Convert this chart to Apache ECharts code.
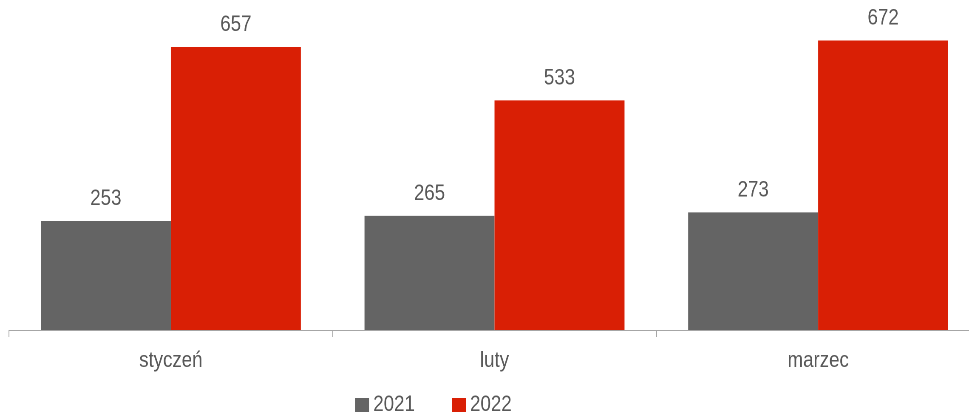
<!DOCTYPE html>
<html>
<head>
<meta charset="utf-8">
<script src="https://cdn.jsdelivr.net/npm/echarts@6/dist/echarts.min.js"></script>
<style>
  html, body { margin: 0; padding: 0; background: #ffffff; overflow: hidden; }
  #wrap { width: 969px; height: 416px; overflow: hidden; }
  #chart { height: 416px; transform-origin: 0 0; }
</style>
</head>
<body>
<div id="wrap"><div id="chart"></div></div>
<script>
// Monthly counts, first quarter, two years side by side
const months = ['styczeń', 'luty', 'marzec'];
const seriesNames = ['2021', '2022'];
const values2021 = [253, 265, 273];
const values2022 = [657, 533, 672];

// The chart is laid out on a wider canvas and squeezed horizontally,
// which gives the tall, condensed lettering; x sizes are divided by SX.
// The plot runs a little past the right edge of the visible page.
const SX = 0.85;
const W = 990 / SX;
const el = document.getElementById('chart');
el.style.width = W + 'px';
el.style.transform = 'scaleX(' + SX + ')';

const FONT = "'Liberation Sans', Arial, sans-serif";
const TEXT_COLOR = '#595959';
const AXIS_COLOR = '#a6a6a6';

const chart = echarts.init(el, null, { renderer: 'canvas', devicePixelRatio: 2 });

const labelStyle = {
  show: true,
  position: 'top',
  distance: 11,
  color: TEXT_COLOR,
  fontFamily: FONT,
  fontSize: 22
};

chart.setOption({
  animation: false,
  backgroundColor: '#ffffff',
  grid: { left: 9 / SX, width: 971 / SX, top: 28.5, bottom: 86, containLabel: false },
  legend: {
    data: seriesNames,
    left: 355 / SX,
    top: 394,
    padding: 0,
    itemWidth: 14 / SX,
    itemHeight: 14,
    itemGap: 37 / SX,
    icon: 'rect',
    textStyle: { color: TEXT_COLOR, fontFamily: FONT, fontSize: 22 }
  },
  xAxis: {
    type: 'category',
    data: months,
    axisLine: { lineStyle: { color: AXIS_COLOR, width: 1 } },
    axisTick: { show: true, length: 7, lineStyle: { color: AXIS_COLOR } },
    axisLabel: { color: TEXT_COLOR, fontFamily: FONT, fontSize: 22, margin: 20 }
  },
  yAxis: {
    type: 'value',
    min: 0,
    max: 700,
    show: false,
    splitLine: { show: false }
  },
  series: [
    {
      name: seriesNames[0],
      type: 'bar',
      data: values2021,
      barWidth: 130 / SX,
      barGap: '0%',
      itemStyle: { color: '#646464' },
      label: labelStyle
    },
    {
      name: seriesNames[1],
      type: 'bar',
      data: values2022,
      barWidth: 130 / SX,
      barGap: '0%',
      itemStyle: { color: '#d91f05' },
      label: labelStyle
    }
  ]
});
</script>
</body>
</html>
